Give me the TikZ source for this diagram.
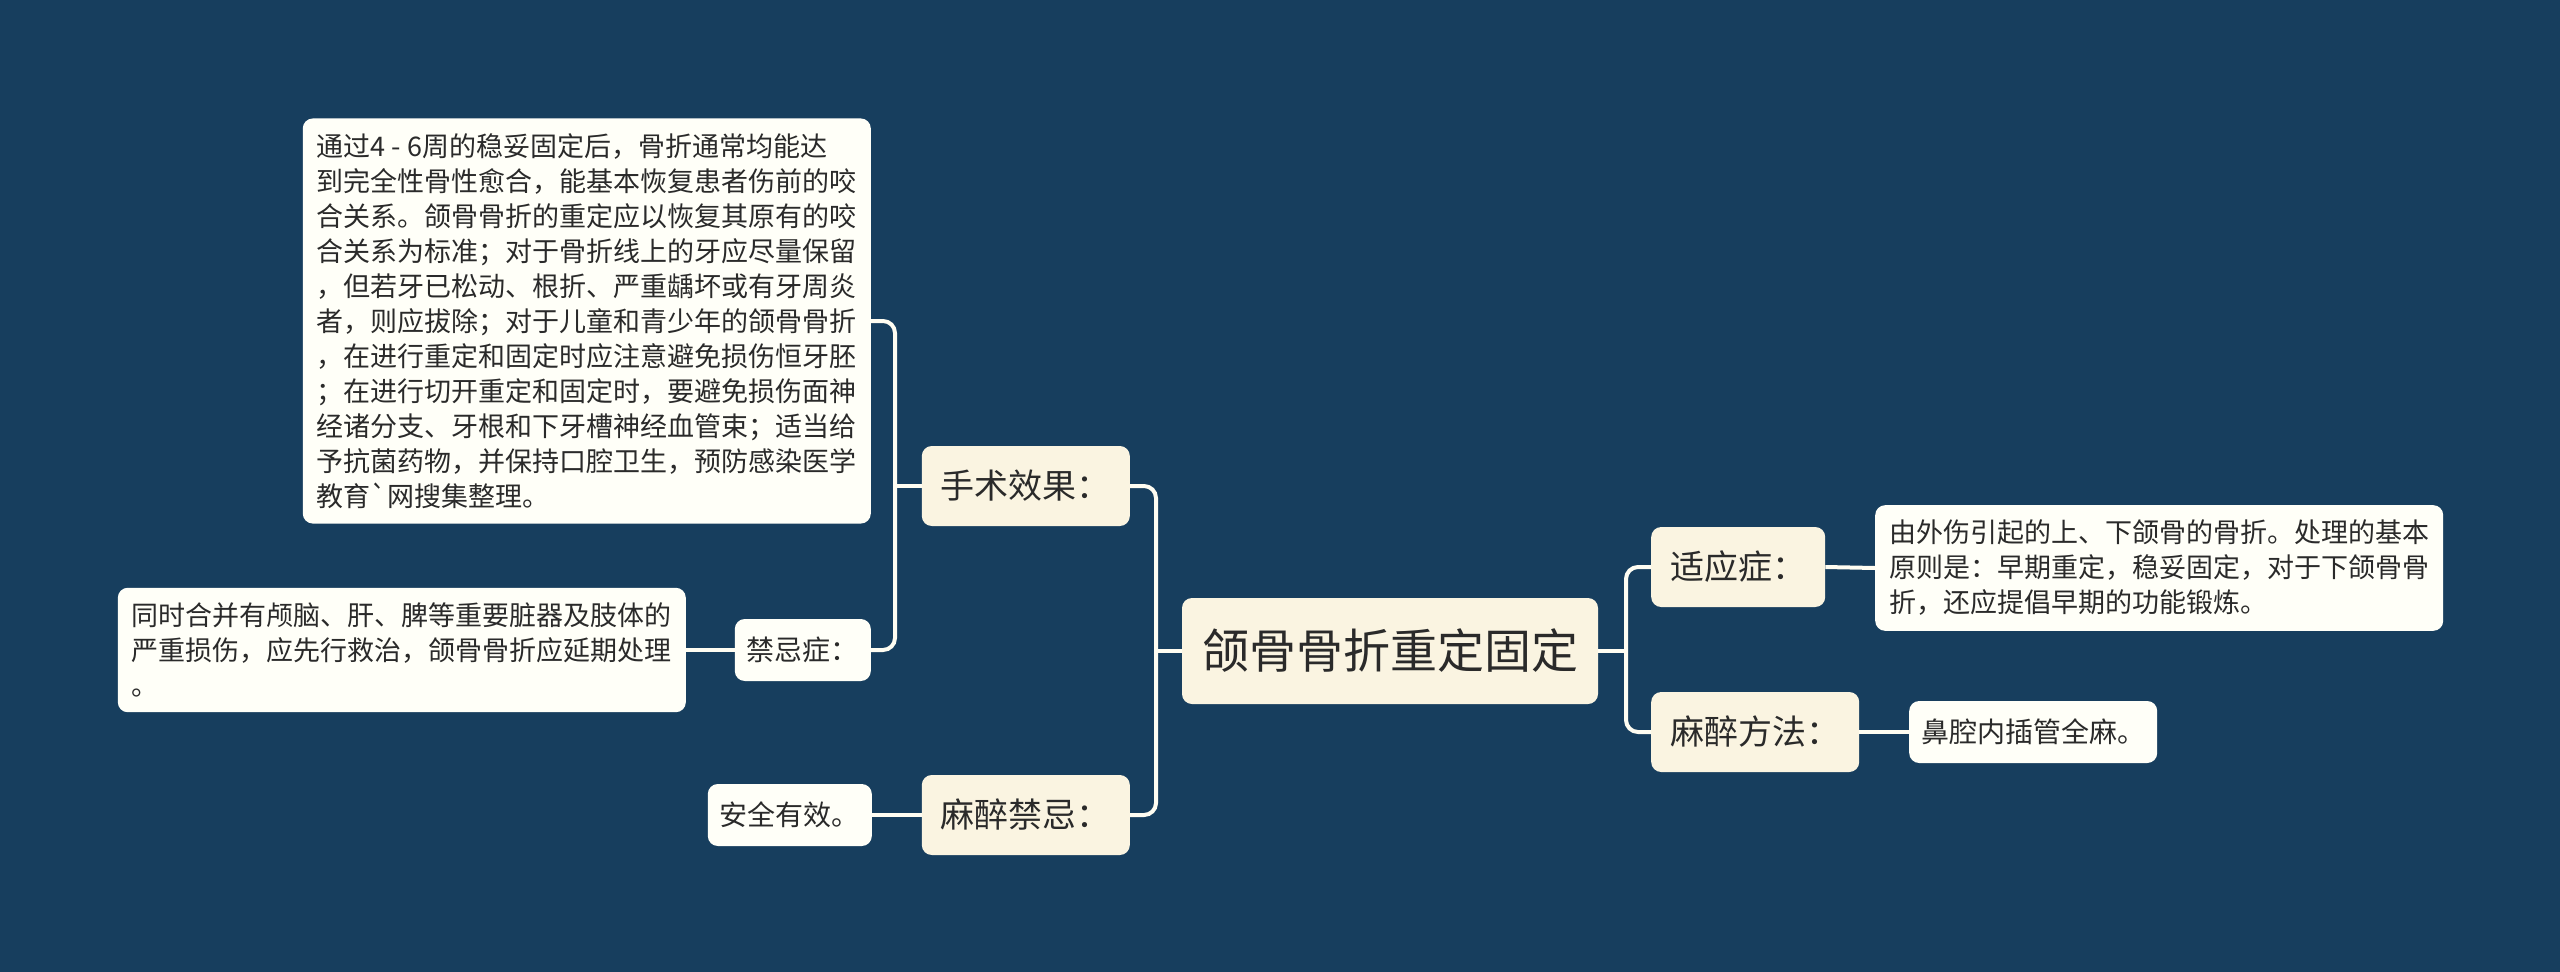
\documentclass[tikz,border=0pt]{standalone}
\usepackage{fontspec}
\newfontfamily\cjk{Noto Sans CJK SC}
\usetikzlibrary{calc}
\definecolor{bgc}{HTML}{173E5E}
\definecolor{topicc}{HTML}{FAF4E1}
\definecolor{leafc}{HTML}{FFFFF8}
\definecolor{linec}{HTML}{FFFDF2}
\definecolor{inkc}{HTML}{2A2A2A}

\begin{document}
\begin{tikzpicture}[x=1pt, y=-1pt,
  root/.style={fill=topicc, rounded corners=10pt, text=inkc,
    font=\cjk\fontsize{47}{56}\selectfont, inner xsep=20pt, minimum height=106pt},
  topic/.style={fill=topicc, rounded corners=10pt, text=inkc,
    font=\cjk\fontsize{34}{40}\selectfont, inner xsep=19pt, minimum height=80pt},
  leaf/.style={fill=leafc, rounded corners=10pt, text=inkc,
    font=\cjk\fontsize{28}{34}\selectfont, inner xsep=12pt, minimum height=62pt},
  note/.style={fill=leafc, rounded corners=10pt, text=inkc, align=left,
    font=\cjk\fontsize{27}{35}\selectfont, inner xsep=14pt, inner ysep=15pt},
  link/.style={draw=linec, line width=4pt, rounded corners=12pt}
]
  \fill[bgc] (0,0) rectangle (2560,972);
  \useasboundingbox (0,0) rectangle (2560,972);

  \node[root] (root) at (1390,651) {颌骨骨折重定固定};

  % left side
  \node[topic, anchor=east] (effect)  at (1130,486) {手术效果：};
  \node[topic, anchor=east] (anesban) at (1130,815) {麻醉禁忌：};
  \node[note, anchor=east] (effectnote) at (871,321)
    {通过4 - 6周的稳妥固定后，骨折通常均能达\\
     到完全性骨性愈合，能基本恢复患者伤前的咬\\
     合关系。颌骨骨折的重定应以恢复其原有的咬\\
     合关系为标准；对于骨折线上的牙应尽量保留\\
     ，但若牙已松动、根折、严重龋坏或有牙周炎\\
     者，则应拔除；对于儿童和青少年的颌骨骨折\\
     ，在进行重定和固定时应注意避免损伤恒牙胚\\
     ；在进行切开重定和固定时，要避免损伤面神\\
     经诸分支、牙根和下牙槽神经血管束；适当给\\
     予抗菌药物，并保持口腔卫生，预防感染医学\\
     教育`网搜集整理。};
  \node[leaf, anchor=east] (contra) at (871,650) {禁忌症：};
  \node[note, anchor=east] (contranote) at (686,650)
    {同时合并有颅脑、肝、脾等重要脏器及肢体的\\
     严重损伤，应先行救治，颌骨骨折应延期处理\\
     。};
  \node[leaf, anchor=east] (safe) at (872,815) {安全有效。};

  % right side
  \node[topic, anchor=west] (indic)   at (1651,567) {适应症：};
  \node[topic, anchor=west] (anesway) at (1651,732) {麻醉方法：};
  \node[note, anchor=west] (indicnote) at (1875,568)
    {由外伤引起的上、下颌骨的骨折。处理的基本\\
     原则是：早期重定，稳妥固定，对于下颌骨骨\\
     折，还应提倡早期的功能锻炼。};
  \node[leaf, anchor=west] (intub) at (1909,732) {鼻腔内插管全麻。};

  % branches
  \coordinate (lsplit) at (1156,651);
  \coordinate (rsplit) at (1626,651);
  \coordinate (esplit) at (895,486);

  \draw[link] (root.west) -- (lsplit);
  \draw[link] (effect.east) -| (lsplit) |- (anesban.east);
  \draw[link] (root.east) -- (rsplit);
  \draw[link] (indic.west) -| (rsplit) |- (anesway.west);
  \draw[link] (effect.west) -- (esplit);
  \draw[link] (effectnote.east) -| (esplit) |- (contra.east);
  \draw[link] (contra.west) -- (contranote.east);
  \draw[link] (anesban.west) -- (safe.east);
  \draw[link] (indic.east) -- (indicnote.west);
  \draw[link] (anesway.east) -- (intub.west);
\end{tikzpicture}
\end{document}
